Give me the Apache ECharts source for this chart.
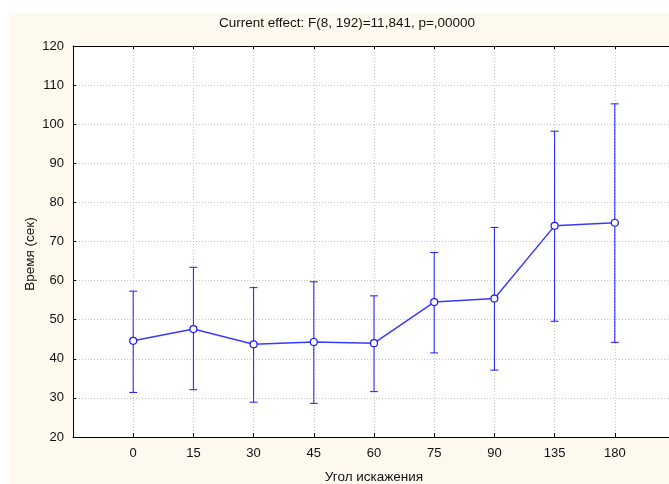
<!DOCTYPE html>
<html>
<head>
<meta charset="utf-8">
<script src="https://cdn.jsdelivr.net/npm/echarts@6/dist/echarts.min.js"></script>
<style>
  html, body { margin: 0; padding: 0; background: #fff; }
  #paper { position: absolute; left: 9px; top: 13px; width: 660px; height: 471px; background: #fdf9ee; }
  #chart { position: absolute; left: 0; top: 0; width: 669px; height: 484px; }
</style>
</head>
<body>
<div id="paper"></div>
<div id="chart"></div>
<script>
  // углы искажения (категории)
  const angles = ["0", "15", "30", "45", "60", "75", "90", "135", "180"];
  // средние значения времени
  const means = [44.6, 47.6, 43.7, 44.3, 44.0, 54.5, 55.4, 74.0, 74.8];
  // границы планок погрешностей
  const lower = [31.4, 32.1, 28.9, 28.6, 31.6, 41.5, 37.1, 49.6, 44.2];
  const upper = [57.3, 63.4, 58.2, 59.7, 56.1, 67.2, 73.6, 98.2, 105.2];

  const yTicks = [20, 120, 10]; // min, max, step

  const titleText = "Current effect: F(8, 192)=11,841, p=,00000";
  const xName = "Угол искажения";
  const yName = "Время (сек)";

  const FONT = "Arial, 'Liberation Sans', sans-serif";
  const BLUE = "#1a1aff";

  const chart = echarts.init(document.getElementById("chart"), null, { renderer: "canvas" });

  const meanData = means.map((v, i) => [i, v]);
  const barData = angles.map((a, i) => [i, lower[i], upper[i]]);

  function errorBar(params, api) {
    const x = api.value(0);
    const lo = api.coord([x, api.value(1)]);
    const hi = api.coord([x, api.value(2)]);
    const half = 4;
    const st = { stroke: BLUE, lineWidth: 1 };
    return {
      type: "group",
      children: [
        { type: "line", shape: { x1: lo[0], y1: lo[1], x2: hi[0], y2: hi[1] }, style: st },
        { type: "line", shape: { x1: hi[0] - half, y1: hi[1], x2: hi[0] + half, y2: hi[1] }, style: st },
        { type: "line", shape: { x1: lo[0] - half, y1: lo[1], x2: lo[0] + half, y2: lo[1] }, style: st },
      ],
    };
  }

  const gridLine = { show: true, lineStyle: { color: "#c4c4c4", type: [1, 2], width: 1 } };
  const blackLine = { show: true, onZero: false, lineStyle: { color: "#000", width: 1 } };

  chart.setOption({
    animation: false,
    backgroundColor: "transparent",
    grid: {
      left: 73,
      top: 46,
      right: -6,
      bottom: 47,
      outerBoundsMode: "none",
      containLabel: false,
      show: true,
      backgroundColor: "#fff",
      borderWidth: 0,
    },
    graphic: [
      {
        type: "text",
        x: 347,
        y: 23,
        style: { text: titleText, font: "13.5px " + FONT, fill: "#111", align: "center", verticalAlign: "middle" },
      },
      {
        type: "text",
        x: 30,
        y: 254,
        rotation: Math.PI / 2,
        style: { text: yName, font: "13.5px " + FONT, fill: "#111", align: "center", verticalAlign: "middle" },
      },
    ],
    xAxis: [
      {
        type: "value",
        min: -1,
        max: 9,
        interval: 1,
        name: xName,
        nameLocation: "middle",
        nameGap: 33,
        nameTextStyle: { fontFamily: FONT, fontSize: 13.5, color: "#111" },
        axisLine: blackLine,
        axisTick: { show: true, inside: true, length: 4, lineStyle: { color: "#000" } },
        axisLabel: {
          fontFamily: FONT,
          fontSize: 13,
          color: "#111",
          margin: 10,
          formatter: (v) => (angles[v] !== undefined ? angles[v] : ""),
        },
        splitLine: gridLine,
      },
      {
        type: "value",
        position: "top",
        min: -1,
        max: 9,
        interval: 1,
        axisLine: blackLine,
        axisTick: { show: true, inside: true, length: 3, lineStyle: { color: "#000" } },
        axisLabel: { show: false },
        splitLine: { show: false },
      },
    ],
    yAxis: {
      type: "value",
      min: yTicks[0],
      max: yTicks[1],
      interval: yTicks[2],
      axisLine: blackLine,
      axisTick: { show: true, inside: true, length: 3, lineStyle: { color: "#000" } },
      axisLabel: { fontFamily: FONT, fontSize: 13, color: "#111", margin: 9 },
      splitLine: gridLine,
    },
    series: [
      {
        type: "custom",
        xAxisIndex: 0,
        renderItem: errorBar,
        data: barData,
        z: 2,
      },
      {
        type: "line",
        xAxisIndex: 0,
        data: meanData,
        symbol: "circle",
        symbolSize: 7,
        itemStyle: { color: "#fff", borderColor: BLUE, borderWidth: 1.2 },
        lineStyle: { color: "#3a3aff", width: 1.5 },
        z: 3,
      },
    ],
  });
</script>
</body>
</html>
